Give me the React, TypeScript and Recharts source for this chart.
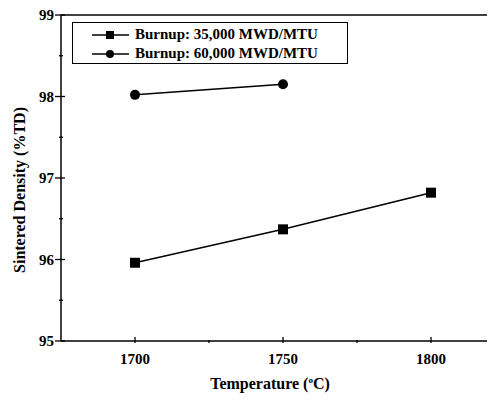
import { LineChart, Line, XAxis, YAxis, ReferenceLine } from 'recharts';

const temps = [1700, 1750, 1800];
const burnup35 = [95.96, 96.37, 96.82];
const burnup60 = [98.02, 98.15];

const xTicks = [1700, 1725, 1750, 1775, 1800];
const xLabels = [1700, 1750, 1800];
const yTicks = [95, 95.5, 96, 96.5, 97, 97.5, 98, 98.5, 99];
const yLabels = [95, 96, 97, 98, 99];

const seriesNames = ['Burnup: 35,000 MWD/MTU', 'Burnup: 60,000 MWD/MTU'];

const data = temps.map((t, i) => ({
  temp: t,
  b35: burnup35[i],
  b60: i < burnup60.length ? burnup60[i] : null,
}));

const FONT = '"Liberation Serif", "Times New Roman", serif';

function XTick({ x, y, payload }: any) {
  const major = xLabels.includes(payload.value);
  return (
    <g>
      <line x1={x} x2={x} y1={y} y2={y - (major ? 6 : 3)} stroke="#000" strokeWidth={1.3} />
      {major && (
        <text x={x} y={y + 21} textAnchor="middle" fontFamily={FONT} fontWeight="bold" fontSize={15} fill="#000">
          {payload.value}
        </text>
      )}
    </g>
  );
}

function YTick({ x, y, payload }: any) {
  const major = yLabels.includes(payload.value);
  return (
    <g>
      <line x1={major ? x - 4 : x} x2={x + (major ? 6 : 4)} y1={y} y2={y} stroke="#000" strokeWidth={1.3} />
      {major && (
        <text x={x - 5} y={y + 5} textAnchor="end" fontFamily={FONT} fontWeight="bold" fontSize={15} fill="#000">
          {payload.value}
        </text>
      )}
    </g>
  );
}

function Square({ cx, cy }: any) {
  if (cx == null || cy == null) return null;
  return <rect x={cx - 5} y={cy - 5} width={10} height={10} fill="#000" />;
}

function Dot({ cx, cy }: any) {
  if (cx == null || cy == null) return null;
  return <circle cx={cx} cy={cy} r={5} fill="#000" />;
}

function LegendBox() {
  const row = (name: string, square: boolean) => (
    <div key={name} style={{ display: 'flex', alignItems: 'center', height: 19 }}>
      <svg width={40} height={12} style={{ marginLeft: 19 }}>
        <line x1={0} x2={37} y1={6} y2={6} stroke="#000" strokeWidth={1.5} />
        {square ? <rect x={14} y={2} width={8} height={8} fill="#000" /> : <circle cx={18} cy={6} r={4} fill="#000" />}
      </svg>
      <span style={{ fontFamily: FONT, fontWeight: 'bold', fontSize: 15, marginLeft: 3, whiteSpace: 'nowrap' }}>{name}</span>
    </div>
  );
  return (
    <div
      style={{
        position: 'absolute',
        left: 64,
        top: 14,
        width: 276,
        height: 42,
        border: '1px solid #000',
        paddingTop: 2,
        boxSizing: 'border-box',
        background: '#fff',
      }}
    >
      {row(seriesNames[0], true)}
      {row(seriesNames[1], false)}
    </div>
  );
}

export default function App() {
  return (
    <div style={{ width: 487, height: 385, overflow: 'hidden', position: 'relative' }}>
      <LineChart width={500} height={385} data={data} margin={{ top: 7, right: 3, bottom: 0, left: 0 }}>
        <XAxis
          dataKey="temp"
          type="number"
          domain={[1675, 1825]}
          ticks={xTicks}
          tickLine={false}
          tickSize={0}
          tick={<XTick />}
          height={52}
          axisLine={{ stroke: '#000', strokeWidth: 1.5 }}
          interval={0}
        />
        <YAxis
          type="number"
          domain={[95, 99]}
          ticks={yTicks}
          tickLine={false}
          tickSize={0}
          tick={<YTick />}
          width={53}
          axisLine={{ stroke: '#000', strokeWidth: 1.5 }}
          interval={0}
        />
        <ReferenceLine y={99} stroke="#000" strokeWidth={1.5} />
        <Line
          dataKey="b35"
          stroke="#000"
          strokeWidth={1.5}
          dot={<Square />}
          activeDot={false}
          isAnimationActive={false}
        />
        <Line
          dataKey="b60"
          stroke="#000"
          strokeWidth={1.5}
          dot={<Dot />}
          activeDot={false}
          connectNulls={false}
          isAnimationActive={false}
        />
      </LineChart>
      <LegendBox />
      <div
        style={{
          position: 'absolute',
          left: 12,
          top: 182,
          transform: 'translate(-50%, -50%) rotate(-90deg)',
          fontFamily: FONT,
          fontWeight: 'bold',
          fontSize: 16,
          whiteSpace: 'nowrap',
        }}
      >
        Sintered Density (%TD)
      </div>
      <div
        style={{
          position: 'absolute',
          left: 262,
          top: 376,
          transform: 'translate(-50%, -50%)',
          fontFamily: FONT,
          fontWeight: 'bold',
          fontSize: 16,
          whiteSpace: 'nowrap',
        }}
      >
        Temperature (<sup style={{ fontSize: 9 }}>o</sup>C)
      </div>
    </div>
  );
}
